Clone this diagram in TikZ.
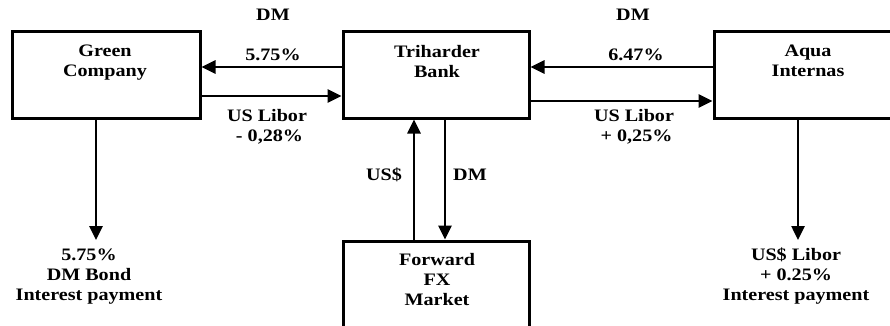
\documentclass[tikz,border=0pt]{standalone}
\usepackage{fontspec}
\setmainfont{Liberation Serif}
\usetikzlibrary{arrows.meta}
\tikzset{
  box/.style={draw, line width=3pt, inner sep=0pt},
  txt/.style={font=\bfseries\fontsize{17.5}{20}\selectfont, align=center, inner sep=0pt, xscale=1.15, transform shape},
  arr/.style={line width=2.6pt, -{Triangle[length=14pt,width=13pt]}}
}
\begin{document}
\begin{tikzpicture}[x=1pt,y=-1pt]
\useasboundingbox (0,0) rectangle (890,326);
\clip (0,0) rectangle (890,326);
% boxes
\node[box, minimum width=188pt, minimum height=86pt] (green) at (106,75) {};
\node[box, minimum width=186pt, minimum height=86pt] (tri) at (436,75) {};
\node[box, minimum width=188pt, minimum height=86pt] (aqua) at (808,75) {};
\node[box, minimum width=186pt, minimum height=130pt] (fwd) at (436,306) {};
% box texts
\node[txt, anchor=north] (tgreen) at (105,45) {Green\\Company};
\node[txt, anchor=north] (ttri) at (437,45) {Triharder\\Bank};
\node[txt, anchor=north] (taqua) at (808,45) {Aqua\\Internas};
\node[txt, anchor=north] (tfwd) at (437,253) {Forward\\FX\\Market};
% top labels
\node[txt, anchor=north] (dmL) at (273,9) {DM};
\node[txt, anchor=north] (dmR) at (633,9) {DM};
\node[txt, anchor=north] (rL) at (273,49) {5.75\%};
\node[txt, anchor=north] (rR) at (636,49) {6.47\%};
\node[txt, anchor=north] (libL) at (267,109) {US Libor\\\ - 0,28\%};
\node[txt, anchor=north] (libR) at (634,109) {US Libor\\\ + 0,25\%};
% middle labels
\node[txt, anchor=base] (usd) at (384,180) {US\$};
\node[txt, anchor=base] (dmM) at (470,180) {DM};
% bottom labels
\node[txt, anchor=north] (botL) at (89,249) {5.75\%\\DM Bond\\Interest payment};
\node[txt, anchor=north] (botR) at (796,248) {US\$ Libor\\+ 0.25\%\\Interest payment};
% coordinates for free ends
\coordinate (gEnd) at (96,240);
\coordinate (aEnd) at (798,240);
% horizontal arrows
\draw[arr] (tri.west |- 0,67) -- (green.east |- 0,67);
\draw[arr] (green.east |- 0,96) -- (tri.west |- 0,96);
\draw[arr] (aqua.west |- 0,67) -- (tri.east |- 0,67);
\draw[arr] (tri.east |- 0,101) -- (aqua.west |- 0,101);
% vertical arrows
\draw[arr] (fwd.north -| 414,0) -- (tri.south -| 414,0);
\draw[arr] (tri.south -| 445,0) -- (fwd.north -| 445,0);
\draw[arr] (green.south -| gEnd) -- (gEnd);
\draw[arr] (aqua.south -| aEnd) -- (aEnd);
\end{tikzpicture}
\end{document}
